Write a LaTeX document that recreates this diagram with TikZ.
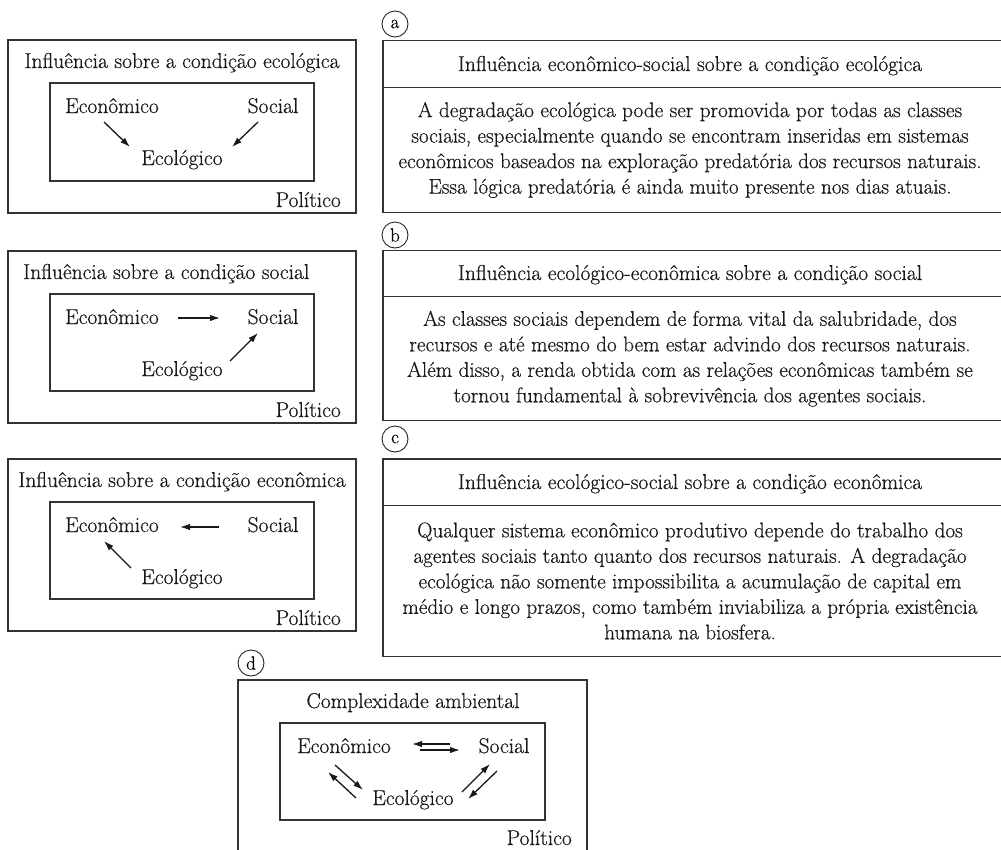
\documentclass[tikz,border=0pt]{standalone}
\usepackage{fontspec}
\setmainfont{Latin Modern Roman}[FakeBold=0.5]
\usetikzlibrary{arrows.meta}
\begin{document}
\begin{tikzpicture}[x=1pt,y=-1pt,
  font=\fontsize{21.5}{26}\selectfont,
  frame/.style={draw=black!80, line width=1.1pt},
  lbl/.style={anchor=base, inner sep=0pt, text=black!90},
  arr/.style={-{Latex[length=10pt,width=6.5pt]}, line width=1.3pt, black!90},
  tag/.style={circle, draw=black!85, line width=0.9pt, minimum size=26pt, inner sep=0pt, font=\fontsize{19}{19}\selectfont},
  body/.style={align=center, inner sep=0pt, font=\fontsize{21.2}{25.5}\selectfont, text=black!90}]
\useasboundingbox (0,0) rectangle (1001,849);

% ---------- panel a (left)
\begin{scope}
\draw[frame] (8,40) rectangle (356,213);
\draw[frame] (50,83) rectangle (314,181);
\node[lbl] (at) at (182,68) {Influência sobre a condição ecológica};
\node[lbl] (ae) at (112,113) {Econômico};
\node[lbl] (as) at (273,113) {Social};
\node[lbl] (ag) at (182,165) {Ecológico};
\node[lbl, anchor=base east] (ap) at (341,207) {Político};
\draw[arr] ([shift={(-8,9)}]ae.base) -- ([shift={(-52,-18)}]ag.base);
\draw[arr] ([shift={(-15,9)}]as.base) -- ([shift={(50,-18)}]ag.base);
\end{scope}

% ---------- panel b (left)
\begin{scope}[shift={(0,211)}]
\draw[frame] (8,40) rectangle (356,212);
\draw[frame] (50,83) rectangle (314,180);
\node[lbl, anchor=base west] (bt) at (23,68) {Influência sobre a condição social};
\node[lbl] (be) at (112,113) {Econômico};
\node[lbl] (bs) at (273,113) {Social};
\node[lbl] (bg) at (182,165) {Ecológico};
\node[lbl, anchor=base east] (bp) at (341,206) {Político};
\draw[arr] ([shift={(66,-6)}]be.base) -- ([shift={(-53,-6)}]bs.base);
\draw[arr] ([shift={(48,-15)}]bg.base) -- ([shift={(-15,9)}]bs.base);
\end{scope}

% ---------- panel c (left)
\begin{scope}[shift={(0,419)}]
\draw[frame] (8,40) rectangle (356,212);
\draw[frame] (50,83) rectangle (314,180);
\node[lbl] (ct) at (182,68) {Influência sobre a condição econômica};
\node[lbl] (ce) at (112,113) {Econômico};
\node[lbl] (cs) at (273,113) {Social};
\node[lbl] (cg) at (182,165) {Ecológico};
\node[lbl, anchor=base east] (cp) at (341,206) {Político};
\draw[arr] ([shift={(-54,-5)}]cs.base) -- ([shift={(68,-5)}]ce.base);
\draw[arr] ([shift={(-51,-16)}]cg.base) -- ([shift={(-8,9)}]ce.base);
\end{scope}

% ---------- panel d
\begin{scope}[shift={(230,640)}]
\draw[frame] (8,40) rectangle (357,215);
\draw[frame] (50,83) rectangle (315,180);
\node[lbl] (dt) at (183,68) {Complexidade ambiental};
\node[lbl] (de) at (114,113) {Econômico};
\node[lbl] (ds) at (274,113) {Social};
\node[lbl] (dg) at (183,165) {Ecológico};
\node[lbl, anchor=base east] (dp) at (342,205) {Político};
\draw[arr] ([shift={(-54,-9)}]ds.base) -- ([shift={(68,-9)}]de.base);
\draw[arr] ([shift={(76,-3)}]de.base) -- ([shift={(-44,-3)}]ds.base);
\draw[arr] ([shift={(-9,12)}]de.base) -- ([shift={(-50,-15)}]dg.base);
\draw[arr] ([shift={(-57,-7)}]dg.base) -- ([shift={(-16,19)}]de.base);
\draw[arr] ([shift={(49,-13)}]dg.base) -- ([shift={(-14,11)}]ds.base);
\draw[arr] ([shift={(-7,18)}]ds.base) -- ([shift={(55,-6)}]dg.base);
\end{scope}

% ---------- tags
\node[tag] (ta) at (395,24) {a};
\node[tag] (tb) at (395,235) {b};
\node[tag] (tc) at (395,439) {c};
\node[tag] (td) at (251,663) {d};

% ---------- right boxes
\draw[frame] (383,40.6) rectangle (1004,212.8);
\draw[frame] (383,87.7) -- (1004,87.7);
\node[lbl] (ra) at (690,71) {Influência econômico-social sobre a condição ecológica};
\node[body] (rab) at (690,150) {A degradação ecológica pode ser promovida por todas as classes\\
sociais, especialmente quando se encontram inseridas em sistemas\\
econômicos baseados na exploração predatória dos recursos naturais.\\
Essa lógica predatória é ainda muito presente nos dias atuais.};

\draw[frame] (383,250.7) rectangle (1004,420.7);
\draw[frame] (383,296.7) -- (1004,296.7);
\node[lbl] (rb) at (690,280) {Influência ecológico-econômica sobre a condição social};
\node[body] (rbb) at (690,358.7) {As classes sociais dependem de forma vital da salubridade, dos\\
recursos e até mesmo do bem estar advindo dos recursos naturais.\\
Além disso, a renda obtida com as relações econômicas também se\\
tornou fundamental à sobrevivência dos agentes sociais.};

\draw[frame] (383,459) rectangle (1004,656.7);
\draw[frame] (383,505.7) -- (1004,505.7);
\node[lbl] (rc) at (690,489) {Influência ecológico-social sobre a condição econômica};
\node[body] (rcb) at (690,581) {Qualquer sistema econômico produtivo depende do trabalho dos\\
agentes sociais tanto quanto dos recursos naturais. A degradação\\
ecológica não somente impossibilita a acumulação de capital em\\
médio e longo prazos, como também inviabiliza a própria existência\\
humana na biosfera.};
\end{tikzpicture}
\end{document}
